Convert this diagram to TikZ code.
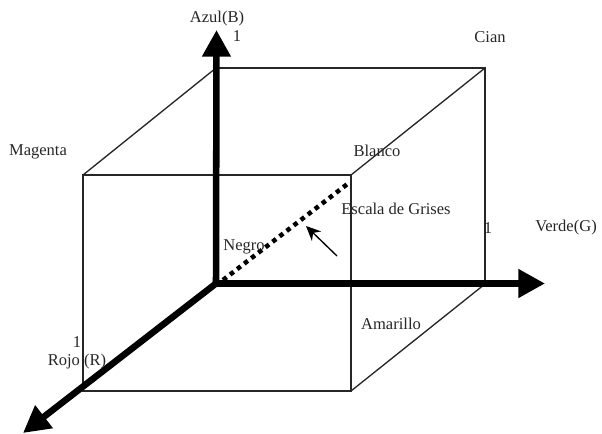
\documentclass[tikz,border=0pt]{standalone}
\usepackage{fontspec}
\setmainfont{Liberation Serif}
\usetikzlibrary{arrows.meta}
\tikzset{
  x=0.75pt,y=-0.75pt,
  edge/.style={line width=1pt,draw=black!85},
  axis/.style={line width=4.9pt,-{Triangle[length=20pt,width=20.5pt]},shorten >=0pt},
  gray line/.style={line width=3.4pt,dash pattern=on 3.4pt off 3.3pt},
  pointer/.style={line width=1pt,-{Stealth[length=11pt,width=10pt]}},
  lbl/.style={font=\fontsize{12.4pt}{14pt}\selectfont,inner sep=0pt,text=black!85}
}
\begin{document}
\begin{tikzpicture}
\useasboundingbox (0,0) rectangle (602,434);
\coordinate (O) at (216,283.5);
\coordinate (B) at (216.5,30);
\coordinate (G) at (545,283.5);
\coordinate (R) at (23,433);
\coordinate (ftl) at (83,175);
\coordinate (ftr) at (351,175);
\coordinate (fbl) at (83,391);
\coordinate (fbr) at (351,391);
\coordinate (btl) at (216,68);
\coordinate (btr) at (485,68);
\coordinate (bbr) at (485,284);
\coordinate (ds) at (223,280);
\coordinate (de) at (350,182);
\coordinate (ps) at (337,256);
\coordinate (pe) at (306,226);
\draw[edge] (ftl) -- (ftr) -- (fbr) -- (fbl) -- cycle;
\draw[edge] (btl) -- (btr) -- (bbr);
\draw[edge] (ftl) -- (btl);
\draw[edge] (ftr) -- (btr);
\draw[edge] (fbr) -- (bbr);
\draw[gray line] (ds) -- (de);
\draw[pointer] (ps) -- (pe);
\draw[axis] (O) -- (B);
\draw[axis] (O) -- (G);
\draw[axis] (O) -- (R);
\node[lbl] (azul) at (217,19) {Azul(B)};
\node[lbl] (uno b) at (237,36) {1};
\node[lbl] (cian) at (490,37) {Cian};
\node[lbl] (magenta) at (38,152) {Magenta};
\node[lbl] (blanco) at (377,151) {Blanco};
\node[lbl] (escala) at (396,209) {Escala de Grises};
\node[lbl] (negro) at (244,247) {Negro};
\node[lbl] (uno g) at (488,228) {1};
\node[lbl] (verde) at (566,228) {Verde(G)};
\node[lbl] (amarillo) at (391,324) {Amarillo};
\node[lbl] (uno r) at (77,342) {1};
\node[lbl] (rojo) at (77,362) {Rojo (R)};
\end{tikzpicture}
\end{document}
